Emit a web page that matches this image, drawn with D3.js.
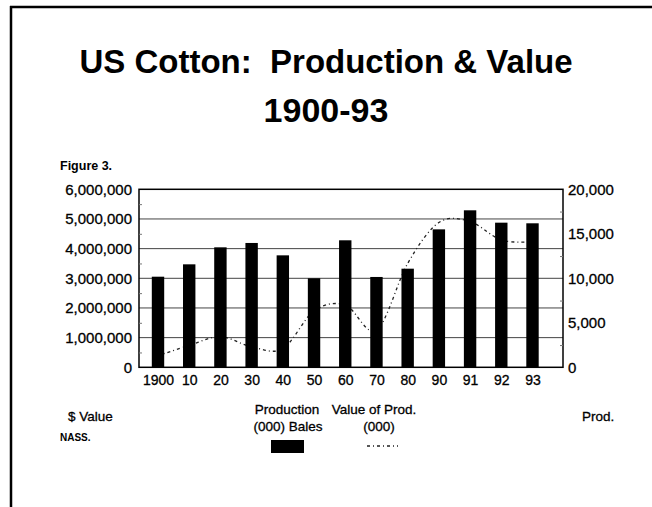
<!DOCTYPE html>
<html lang="en">
<head>
<meta charset="UTF-8">
<title>US Cotton: Production & Value 1900-93</title>
<script src="https://d3js.org/d3.v7.min.js"></script>
<style>
  body { margin: 0; background: #fff; }
  svg { display: block; font-family: Arial, "Liberation Sans", Helvetica, sans-serif; }
  .lbl { stroke: #000; stroke-width: 0.3px; }
</style>
</head>
<body>
<div id="chart"></div>
<script>
// data
const years = ["1900", "10", "20", "30", "40", "50", "60", "70", "80", "90", "91", "92", "93"];
// Production (000) bales -> right axis
const production = [10180, 11570, 13480, 13970, 12580, 10000, 14270, 10150, 11080, 15500, 17640, 16250, 16180];
// Value of production (000) $ -> left axis
const value = [390000, 740000, 1030000, 690000, 630000, 1900000, 2100000, 1250000, 3500000, 4880000, 4910000, 4290000, 4230000];
const leftTicks = [0, 1000000, 2000000, 3000000, 4000000, 5000000, 6000000];
const rightTicks = [0, 5000, 10000, 15000, 20000];

const W = 652, H = 507;
const plot = { left: 139, right: 563, top: 189.3, bottom: 367.3 };

const svg = d3.select('#chart').append('svg')
    .attr('width', W)
    .attr('height', H);

// outer frame (top + left only are visible)
svg.append('line').attr('x1', 10).attr('x2', W).attr('y1', 7).attr('y2', 7)
    .attr('stroke', '#000').attr('stroke-width', 2.5);
svg.append('line').attr('x1', 11).attr('x2', 11).attr('y1', 6).attr('y2', H)
    .attr('stroke', '#000').attr('stroke-width', 2.5);

// title
svg.append('text').attr('x', 326).attr('y', 73)
    .attr('text-anchor', 'middle').style('font-size', '33px').style('font-weight', 'bold')
    .style('white-space', 'pre')
    .text('US Cotton:  Production & Value');
svg.append('text').attr('x', 326).attr('y', 122)
    .attr('text-anchor', 'middle').style('font-size', '34px').style('font-weight', 'bold')
    .text('1900-93');

svg.append('text').attr('x', 60).attr('y', 170)
    .style('font-size', '12.5px').style('font-weight', 'bold')
    .text('Figure 3.');

// scales
const x = d3.scalePoint().domain(years).range([158, 532.5]);
const yL = d3.scaleLinear().domain([0, 6000000]).range([plot.bottom, plot.top]);
const yR = d3.scaleLinear().domain([0, 20000]).range([plot.bottom, plot.top]);
const barW = 12.4;

// gridlines
svg.append('g').selectAll('line')
    .data(leftTicks.slice(1, -1))
    .enter().append('line')
    .attr('x1', plot.left).attr('x2', plot.right)
    .attr('y1', d => yL(d)).attr('y2', d => yL(d))
    .attr('stroke', '#444').attr('stroke-width', 1);

// value line (drawn under the bars)
const line = d3.line()
    .x((d, i) => x(years[i]))
    .y(d => yL(d))
    .curve(d3.curveCardinal.tension(0));
svg.append('path')
    .datum(value)
    .attr('d', line)
    .attr('fill', 'none')
    .attr('stroke', '#222')
    .attr('stroke-width', 1.3)
    .attr('stroke-dasharray', '3,3,1,3');

// production bars
svg.append('g').selectAll('rect')
    .data(production)
    .enter().append('rect')
    .attr('x', (d, i) => x(years[i]) - barW / 2)
    .attr('y', d => yR(d))
    .attr('width', barW)
    .attr('height', d => yR(0) - yR(d))
    .attr('fill', '#000');

// plot frame
svg.append('rect')
    .attr('x', plot.left).attr('y', plot.top)
    .attr('width', plot.right - plot.left).attr('height', plot.bottom - plot.top)
    .attr('fill', 'none').attr('stroke', '#000').attr('stroke-width', 1.5);

// left axis
const leftAxis = svg.append('g')
    .attr('transform', `translate(${plot.left},0)`)
    .call(d3.axisLeft(yL).tickValues(leftTicks).tickSize(0).tickPadding(7).tickFormat(d3.format(',')));
leftAxis.select('.domain').remove();
leftAxis.selectAll('text').attr('class', 'lbl').style('font-size', '15px').attr('fill', '#000');

// left minor ticks (inside)
svg.append('g')
    .attr('transform', `translate(${plot.left},0)`)
    .call(d3.axisRight(yL).tickValues(leftTicks.slice(0, -1).map(d => d + 500000)).tickSize(3).tickFormat(''))
    .call(g => g.select('.domain').remove())
    .selectAll('line').attr('stroke', '#777');

// right axis
const rightAxis = svg.append('g')
    .attr('transform', `translate(${plot.right},0)`)
    .call(d3.axisRight(yR).tickValues(rightTicks).tickSize(0).tickPadding(5).tickFormat(d3.format(',')));
rightAxis.select('.domain').remove();
rightAxis.selectAll('text').attr('class', 'lbl').style('font-size', '15px').attr('fill', '#000');

// right minor ticks (inside)
svg.append('g')
    .attr('transform', `translate(${plot.right},0)`)
    .call(d3.axisLeft(yR).tickValues(rightTicks.slice(0, -1).map(d => d + 2500)).tickSize(3).tickFormat(''))
    .call(g => g.select('.domain').remove())
    .selectAll('line').attr('stroke', '#777');

// x axis labels
const xAxis = svg.append('g')
    .attr('transform', `translate(0,${plot.bottom})`)
    .call(d3.axisBottom(x).tickSize(0).tickPadding(8));
xAxis.select('.domain').remove();
xAxis.selectAll('text').attr('class', 'lbl').style('font-size', '14px').attr('fill', '#000');

// axis titles & legend
const lab = (tx, ty, t, anchor) => svg.append('text')
    .attr('class', 'lbl')
    .attr('x', tx).attr('y', ty).attr('text-anchor', anchor || 'start')
    .style('font-size', '13.5px').text(t);

lab(68, 421, '$ Value');
lab(582, 421, 'Prod.');
lab(287, 414, 'Production', 'middle');
lab(288, 431, '(000) Bales', 'middle');
lab(374, 414, 'Value of Prod.', 'middle');
lab(379, 431, '(000)', 'middle');

svg.append('rect').attr('x', 271).attr('y', 440).attr('width', 33).attr('height', 13).attr('fill', '#000');
svg.append('line').attr('x1', 367).attr('x2', 398).attr('y1', 446).attr('y2', 446)
    .attr('stroke', '#222').attr('stroke-width', 1.3).attr('stroke-dasharray', '3,3,1,3');

svg.append('text').attr('x', 60).attr('y', 441)
    .style('font-size', '10px').style('font-weight', 'bold').text('NASS.');
</script>
</body>
</html>
